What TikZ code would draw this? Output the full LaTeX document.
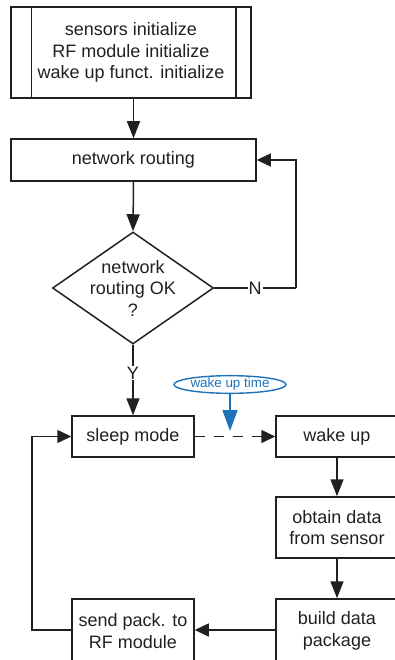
\documentclass[tikz,border=0pt]{standalone}
\usepackage{fontspec}
\setmainfont{Liberation Sans}
\usetikzlibrary{arrows.meta,shapes.geometric}
\definecolor{ink}{RGB}{35,31,32}
\definecolor{wblue}{RGB}{30,114,186}
\tikzset{
  box/.style={draw=ink, line width=1.5pt, rectangle, inner sep=0pt, align=center,
    text=ink, font=\fontsize{18}{21.5}\selectfont},
  lbl/.style={text=ink, inner sep=1pt, fill=white, font=\fontsize{18}{21.5}\selectfont},
  conn/.style={draw=ink, line width=1.5pt, -{Triangle[length=17pt,width=13pt]}},
  shortconn/.style={draw=ink, line width=1.5pt, -{Triangle[length=14pt,width=13pt]}},
  plain/.style={draw=ink, line width=1.5pt},
}
\begin{document}
\begin{tikzpicture}[x=1pt,y=-1pt]
\useasboundingbox (0,0) rectangle (395,660);
\clip (0,0) rectangle (395,660);
% nodes
\node[box, minimum width=240pt, minimum height=91pt] (init) at (131,52.5)
  {sensors initialize\\RF module initialize\\wake up funct. initialize};
\draw[plain] ([xshift=21pt]init.north west) -- ([xshift=21pt]init.south west);
\draw[plain] ([xshift=-16pt]init.north east) -- ([xshift=-16pt]init.south east);
\node[box, minimum width=245pt, minimum height=42pt] (route) at (133.5,160) {network routing};
\node[draw=ink, line width=1.5pt, diamond, inner sep=0pt, minimum width=161pt, minimum height=112pt] (dec) at (133,288) {};
\node[align=center, text=ink, inner sep=0pt, font=\fontsize{18}{21.5}\selectfont] (dectext) at (dec.center) {network\\routing OK\\?};
\node[box, minimum width=122pt, minimum height=41pt] (sleep) at (133,436.5) {sleep mode};
\node[box, minimum width=122pt, minimum height=41pt] (wake) at (337,436.5) {wake up};
\node[box, minimum width=122pt, minimum height=61pt] (obtain) at (337,527.5) {obtain data\\from sensor};
\node[box, minimum width=122pt, minimum height=64pt] (build) at (337,631) {build data\\package};
\node[box, minimum width=122pt, minimum height=64pt] (send) at (133,631) {send pack. to\\RF module};
\node[draw=wblue, line width=1.4pt, ellipse, inner sep=0pt, minimum width=112pt, minimum height=17pt,
  text=wblue, font=\fontsize{13.4}{14}\selectfont] (wtime) at (230,384.5) {wake up time};
\coordinate (ncorner) at (296,288);
\coordinate (ntop) at (296,160);
\coordinate (lbot) at (32,630);
\coordinate (ltop) at (32,436.5);
\coordinate (wtip) at (230,431);
% connectors
\draw[conn] (init.south -| route.north) -- (route.north);
\draw[conn] (route.south) -- (dec.north);
\draw[plain] (dec.east) -- (ncorner) node[lbl, pos=0.5] (nlbl) {N};
\draw[shortconn] (ncorner) -- (ntop) -- (route.east |- ntop);
\draw[conn] (dec.south) -- (sleep.north) node[lbl, pos=0.4] (ylbl) {Y};
\draw[shortconn, dash pattern=on 10pt off 9pt] (sleep.east) -- (wake.west);
\draw[draw=wblue, line width=1.5pt, -{Triangle[length=21pt,width=15pt]}] (wtime.south) -- (wtip);
\draw[conn] (wake.south) -- (obtain.north);
\draw[conn] (obtain.south) -- (build.north);
\draw[shortconn] (build.west |- lbot) -- (send.east |- lbot);
\draw[shortconn] (send.west |- lbot) -- (lbot) -- (ltop) -- (sleep.west);
\end{tikzpicture}
\end{document}
